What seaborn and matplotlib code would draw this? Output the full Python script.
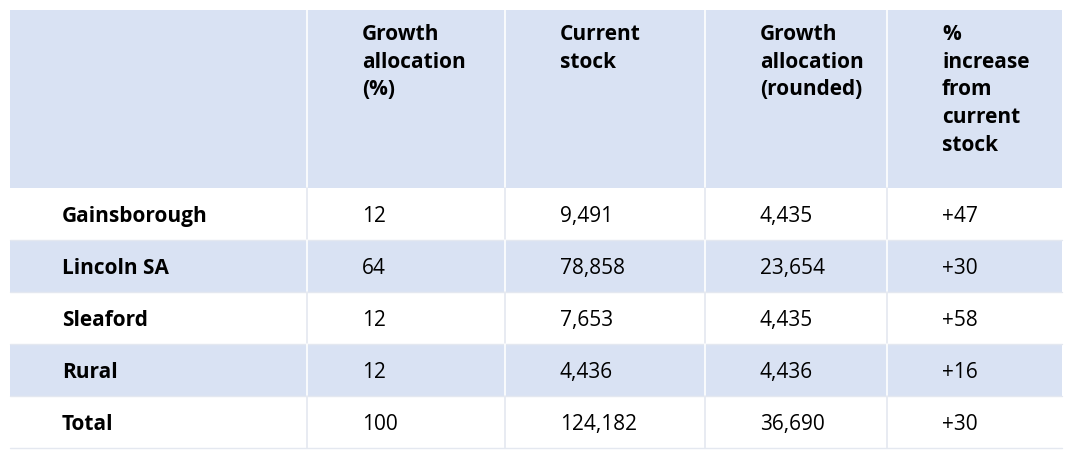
import matplotlib
matplotlib.use("Agg")
import matplotlib.pyplot as plt
import seaborn as sns

sns.set_theme(style="white")

headers = ["", "Growth\nallocation\n(%)", "Current\nstock", "Growth\nallocation\n(rounded)",
           "%\nincrease\nfrom\ncurrent\nstock"]
areas = ["Gainsborough", "Lincoln SA", "Sleaford", "Rural", "Total"]
growth_pct = ["12", "64", "12", "12", "100"]
current_stock = ["9,491", "78,858", "7,653", "4,436", "124,182"]
growth_rounded = ["4,435", "23,654", "4,435", "4,436", "36,690"]
pct_increase = ["+47", "+30", "+58", "+16", "+30"]

W, H = 1072, 461
col_edges = [10, 307, 505, 705, 887, 1062]
header_top, header_bot = 10, 188
row_h = 52
blue = "#D9E2F3"
font = "Open Sans"

fig = plt.figure(figsize=(W / 100, H / 100), dpi=100)
ax = fig.add_axes([0, 0, 1, 1])
ax.set_xlim(0, W)
ax.set_ylim(H, 0)
ax.axis("off")

# header background
ax.axhspan(header_top, header_bot, xmin=col_edges[0] / W, xmax=col_edges[-1] / W, color=blue, lw=0)
for j, h in enumerate(headers):
    ax.text(col_edges[j] + 55, header_top + 14, h, ha="left", va="top", fontsize=15,
            fontweight="bold", family=font, linespacing=1.42, color="black")

columns = [areas, growth_pct, current_stock, growth_rounded, pct_increase]
for i in range(len(areas)):
    top = header_bot + i * row_h
    fill = blue if i % 2 == 1 else "white"
    ax.axhspan(top, top + row_h, xmin=col_edges[0] / W, xmax=col_edges[-1] / W, color=fill, lw=0)
    ax.plot([col_edges[0], col_edges[-1]], [top + row_h, top + row_h], color="#e4e8f0", lw=1)
    for j, col in enumerate(columns):
        ax.text(col_edges[j] + 52 if j == 0 else col_edges[j] + 55, top + row_h / 2 + 2, col[i],
                ha="left", va="center", fontsize=15, family=font,
                fontweight="bold" if j == 0 else "normal", color="black")

for x in col_edges[1:-1]:
    ax.plot([x, x], [header_top, header_bot], color="white", lw=1.2)
    for i in range(len(areas)):
        top = header_bot + i * row_h
        ax.plot([x, x], [top, top + row_h], color="white" if i % 2 == 1 else "#e4e8f0", lw=1.2)

fig.savefig("out.png", dpi=100, facecolor="white")
